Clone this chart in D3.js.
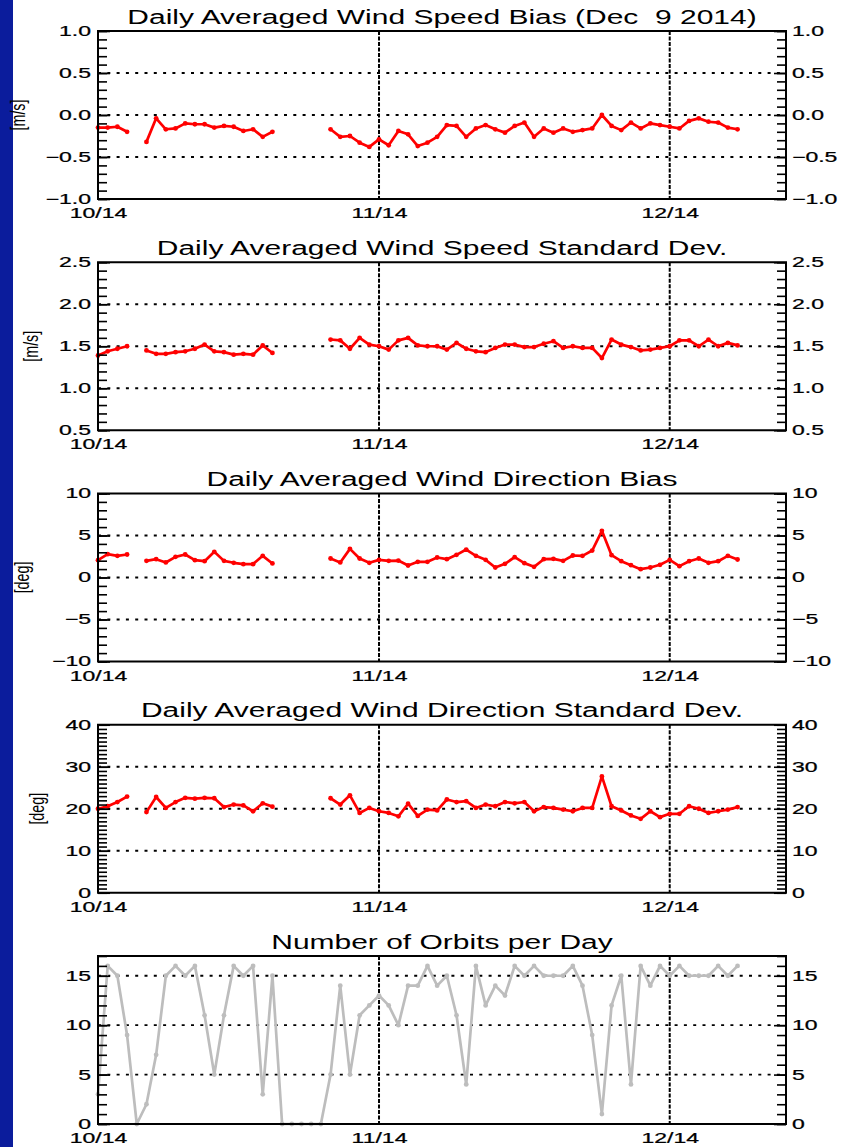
<!DOCTYPE html>
<meta charset="utf-8">
<style>
body { margin: 0; background: #fff; }
svg { display: block; font-family: "Liberation Sans", Arial, sans-serif; }
</style>
<svg width="842" height="1147"></svg>
<script src="https://d3js.org/d3.v7.min.js"></script>
<script>

// axis runs Oct 3 .. Dec 13 2014, one value per day Oct 3 .. Dec 8
var start = new Date(Date.UTC(2014, 9, 3)),
    end = new Date(Date.UTC(2014, 11, 13)),
    last = new Date(Date.UTC(2014, 11, 9));

var monthTicks = [new Date(Date.UTC(2014, 9, 3)), new Date(Date.UTC(2014, 10, 1)), new Date(Date.UTC(2014, 11, 1))];

var days = d3.utcDay.range(start, last);

var speedBias = [-0.15, -0.15, -0.14, -0.20, null, -0.32, -0.04, -0.17, -0.16, -0.10,
  -0.11, -0.11, -0.15, -0.13, -0.14, -0.19, -0.17, -0.26, -0.20, null,
  null, null, null, null, -0.17, -0.26, -0.25, -0.33, -0.38, -0.29,
  -0.36, -0.19, -0.23, -0.37, -0.33, -0.26, -0.12, -0.13, -0.26, -0.16,
  -0.12, -0.17, -0.21, -0.13, -0.09, -0.26, -0.16, -0.21, -0.16, -0.20,
  -0.18, -0.16, 0.00, -0.13, -0.18, -0.09, -0.16, -0.10, -0.12, -0.14,
  -0.16, -0.07, -0.04, -0.08, -0.09, -0.15, -0.17];

var speedStd = [1.39, 1.44, 1.47, 1.50, null, 1.45, 1.41, 1.41, 1.43, 1.44,
  1.47, 1.52, 1.44, 1.43, 1.40, 1.41, 1.40, 1.51, 1.42, null,
  null, null, null, null, 1.58, 1.57, 1.47, 1.60, 1.52, 1.50,
  1.46, 1.57, 1.60, 1.51, 1.50, 1.50, 1.46, 1.54, 1.47, 1.44,
  1.43, 1.48, 1.52, 1.52, 1.49, 1.49, 1.53, 1.56, 1.48, 1.50,
  1.48, 1.48, 1.36, 1.58, 1.52, 1.49, 1.45, 1.46, 1.48, 1.50,
  1.57, 1.57, 1.50, 1.58, 1.50, 1.54, 1.51];

var dirBias = [2.06, 2.78, 2.58, 2.74, null, 1.98, 2.18, 1.79, 2.46, 2.74,
  2.06, 1.94, 3.06, 1.98, 1.75, 1.59, 1.59, 2.58, 1.67, null,
  null, null, null, null, 2.26, 1.79, 3.41, 2.26, 1.75, 2.10,
  1.98, 2.02, 1.43, 1.87, 1.87, 2.38, 2.18, 2.70, 3.33, 2.58,
  2.10, 1.19, 1.63, 2.42, 1.71, 1.27, 2.18, 2.22, 1.98, 2.62,
  2.58, 3.21, 5.56, 2.66, 1.94, 1.47, 0.99, 1.19, 1.51, 2.10,
  1.35, 1.94, 2.26, 1.75, 1.94, 2.58, 2.14];

var dirStd = [20.0, 20.6, 21.6, 22.9, null, 19.2, 22.8, 20.2, 21.6, 22.6,
  22.4, 22.6, 22.5, 20.4, 21.0, 20.8, 19.4, 21.3, 20.5, null,
  null, null, null, null, 22.5, 21.0, 23.2, 19.0, 20.2, 19.4,
  19.0, 18.2, 21.2, 18.3, 19.8, 19.6, 22.2, 21.6, 21.8, 20.2,
  21.0, 20.6, 21.6, 21.3, 21.6, 19.4, 20.4, 20.2, 19.8, 19.4,
  20.2, 20.2, 27.7, 20.6, 19.6, 18.4, 17.6, 19.4, 18.0, 18.8,
  18.8, 20.6, 20.0, 19.0, 19.4, 19.8, 20.4];

var orbits = [3, 16, 15, 9, 0, 2, 7, 15, 16, 15,
  16, 11, 5, 11, 16, 15, 16, 3, 15, 0,
  0, 0, 0, 0, 5, 14, 5, 11, 12, 13,
  12, 10, 14, 14, 16, 14, 15, 11, 4, 16,
  12, 14, 13, 16, 15, 16, 15, 15, 15, 16,
  14, 9, 1, 12, 15, 4, 16, 14, 16, 15,
  16, 15, 15, 15, 16, 15, 16];

var panels = [
  {title: "Daily Averaged Wind Speed Bias (Dec  9 2014)", unit: "[m/s]", unitX: 19,
   values: speedBias, domain: [-1, 1], major: [-1, -0.5, 0, 0.5, 1], minor: 0.1, fmt: d3.format(".1f"), color: "#ff0000"},
  {title: "Daily Averaged Wind Speed Standard Dev.", unit: "[m/s]", unitX: 32,
   values: speedStd, domain: [0.5, 2.5], major: [0.5, 1, 1.5, 2, 2.5], minor: 0.1, fmt: d3.format(".1f"), color: "#ff0000"},
  {title: "Daily Averaged Wind Direction Bias", unit: "[deg]", unitX: 23,
   values: dirBias, domain: [-10, 10], major: [-10, -5, 0, 5, 10], minor: 1, fmt: d3.format("d"), color: "#ff0000"},
  {title: "Daily Averaged Wind Direction Standard Dev.", unit: "[deg]", unitX: 38,
   values: dirStd, domain: [0, 40], major: [0, 10, 20, 30, 40], minor: 1, fmt: d3.format("d"), color: "#ff0000"},
  {title: "Number of Orbits per Day", unit: null,
   values: orbits, domain: [0, 17], major: [0, 5, 10, 15], minor: 1, fmt: d3.format("d"), color: "#bdbdbd"}
];

var W = 842, H = 1147,
    L = 98, R = 786;

var svg = d3.select("svg");
svg.append("rect").attr("width", W).attr("height", H).attr("fill", "#fff");
svg.append("rect").attr("width", 13).attr("height", H).attr("fill", "#0b1c9c");

var x = d3.scaleUtc().domain([start, end]).range([L, R]);

function styleAxis(sel, size) {
  sel.attr("font-size", null).attr("font-family", null);
  sel.select(".domain").remove();
  sel.selectAll("line").attr("stroke-width", 1.6);
  sel.selectAll("text").attr("font-size", size).attr("fill", "#000")
    .attr("stroke", "#000").attr("stroke-width", 0.4)
    .attr("transform", "scale(1,0.61)");
}

panels.forEach(function(p, i) {
  var top = 31 + i * 231.25, bottom = top + 168;
  var y = d3.scaleLinear().domain(p.domain).range([bottom, top]);
  var g = svg.append("g");

  var n = Math.round((p.domain[1] - p.domain[0]) / p.minor);
  var minors = d3.range(n + 1).map(function(k) { return p.domain[0] + k * p.minor; });

  // dotted grid
  g.selectAll(".grid")
      .data(p.major.filter(function(v) { return v > p.domain[0] && v < p.domain[1]; }))
    .enter().append("line")
      .attr("x1", L).attr("x2", R)
      .attr("y1", y).attr("y2", y)
      .attr("stroke", "#000").attr("stroke-width", 1.8)
      .attr("stroke-dasharray", "3,6.3");

  g.selectAll(".month")
      .data(monthTicks.slice(1))
    .enter().append("line")
      .attr("x1", x).attr("x2", x)
      .attr("y1", top).attr("y2", bottom)
      .attr("stroke", "#000").attr("stroke-width", 2)
      .attr("stroke-dasharray", "4,1.5");

  var pts = days.map(function(d, j) { return {date: d, v: p.values[j]}; });

  var line = d3.line()
      .defined(function(d) { return d.v != null; })
      .x(function(d) { return x(d.date); })
      .y(function(d) { return y(d.v); });

  g.append("path")
      .datum(pts)
      .attr("d", line)
      .attr("fill", "none")
      .attr("stroke", p.color)
      .attr("stroke-width", 2.7)
      .attr("stroke-linejoin", "round");

  g.selectAll(".pt")
      .data(pts.filter(function(d) { return d.v != null; }))
    .enter().append("circle")
      .attr("cx", function(d) { return x(d.date); })
      .attr("cy", function(d) { return y(d.v); })
      .attr("r", 2.4)
      .attr("fill", p.color);

  g.append("rect")
      .attr("x", L).attr("y", top)
      .attr("width", R - L).attr("height", bottom - top)
      .attr("fill", "none").attr("stroke", "#000").attr("stroke-width", 2);

  // ticks point inward on both sides
  g.append("g").attr("transform", "translate(" + L + ",0)")
      .call(d3.axisLeft(y).tickValues(minors).tickSize(-9).tickFormat(""))
      .call(styleAxis, 23);
  g.append("g").attr("transform", "translate(" + L + ",0)")
      .call(d3.axisLeft(y).tickValues(p.major).tickSize(-12).tickPadding(7).tickFormat(p.fmt))
      .call(styleAxis, 23);
  g.append("g").attr("transform", "translate(" + R + ",0)")
      .call(d3.axisRight(y).tickValues(minors).tickSize(-9).tickFormat(""))
      .call(styleAxis, 23);
  g.append("g").attr("transform", "translate(" + R + ",0)")
      .call(d3.axisRight(y).tickValues(p.major).tickSize(-12).tickPadding(6).tickFormat(p.fmt))
      .call(styleAxis, 23);

  var xa = g.append("g").attr("transform", "translate(0," + bottom + ")")
      .call(d3.axisBottom(x).tickValues(monthTicks).tickSize(0).tickFormat(d3.utcFormat("%m/%y")))
      .call(styleAxis, 23);
  xa.selectAll("text").attr("y", 0).attr("dy", null)
      .attr("transform", "translate(0,19) scale(1,0.61)");

  g.append("text")
      .attr("transform", "translate(442," + (top - 7.5) + ") scale(1,0.666)")
      .attr("text-anchor", "middle")
      .attr("font-size", 30)
      .style("white-space", "pre")
      .text(p.title);

  if (p.unit) {
    g.append("text")
        .attr("transform", "translate(" + (p.unitX + 5.5) + "," + (top + bottom) / 2 + ") scale(1,0.68) rotate(-90)")
        .attr("text-anchor", "middle")
        .attr("font-size", 21)
        .text(p.unit);
  }
});

</script>
